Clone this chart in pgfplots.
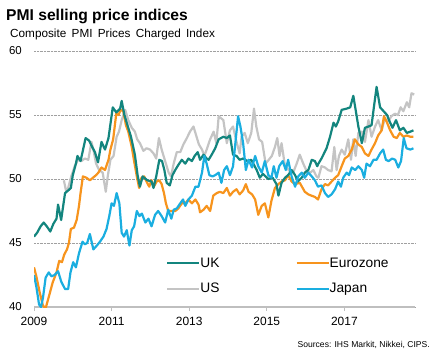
\documentclass[border=0pt]{standalone}
\usepackage{pgfplots}
\pgfplotsset{compat=1.18}
\usepackage{fontspec}
\setmainfont{Liberation Sans}
\setsansfont{Liberation Sans}
\definecolor{ukc}{HTML}{13857E}
\definecolor{ezc}{HTML}{F7941D}
\definecolor{usc}{HTML}{C4C4C4}
\definecolor{jpc}{HTML}{1AAEE0}
\definecolor{gridc}{HTML}{A0A0A0}
\definecolor{axc}{HTML}{BFBFBF}

\pgfplotstableread{
x y
2009.00 45.5
2009.08 45.8
2009.17 46.3
2009.25 46.6
2009.33 46.3
2009.42 45.9
2009.50 46.5
2009.58 46.9
2009.62 48.0
2009.70 46.8
2009.80 48.9
2009.88 49.1
2009.95 49.3
2010.00 50.3
2010.08 51.2
2010.12 51.8
2010.20 51.4
2010.33 53.2
2010.42 53.0
2010.50 52.5
2010.57 52.1
2010.65 51.3
2010.74 52.9
2010.83 52.3
2010.92 53.2
2011.03 55.6
2011.12 55.2
2011.22 55.5
2011.26 56.1
2011.33 55.0
2011.43 54.0
2011.50 53.3
2011.60 51.9
2011.67 50.3
2011.73 49.4
2011.80 50.2
2011.92 49.9
2012.03 49.8
2012.08 49.3
2012.15 50.2
2012.23 51.5
2012.30 51.4
2012.36 50.7
2012.42 49.7
2012.50 49.5
2012.57 50.3
2012.64 50.7
2012.72 51.1
2012.81 51.5
2012.90 51.2
2012.98 51.6
2013.07 51.4
2013.14 51.8
2013.22 52.1
2013.28 51.5
2013.37 51.9
2013.45 51.6
2013.50 51.5
2013.58 51.9
2013.67 52.4
2013.76 53.1
2013.88 53.3
2013.97 53.2
2014.05 53.4
2014.13 51.9
2014.22 51.8
2014.30 51.5
2014.39 51.6
2014.50 51.4
2014.60 51.5
2014.74 50.7
2014.82 50.1
2014.90 50.4
2015.04 50.0
2015.15 50.1
2015.25 49.6
2015.30 48.7
2015.38 49.7
2015.47 50.1
2015.55 50.3
2015.64 50.7
2015.73 50.3
2015.80 49.8
2015.90 50.1
2015.98 50.5
2016.07 50.7
2016.16 51.5
2016.24 51.4
2016.30 51.0
2016.33 51.2
2016.41 51.6
2016.54 52.4
2016.63 53.3
2016.72 54.4
2016.78 54.1
2016.84 54.5
2016.93 55.4
2017.06 55.5
2017.15 55.6
2017.23 56.5
2017.29 55.4
2017.36 54.1
2017.45 52.8
2017.53 54.0
2017.62 54.1
2017.70 54.2
2017.76 55.6
2017.83 57.2
2017.92 55.6
2018.01 55.3
2018.10 55.0
2018.15 54.6
2018.24 54.0
2018.33 54.6
2018.43 53.8
2018.52 54.0
2018.61 53.6
2018.70 53.7
2018.78 53.8
}\ukdata

\pgfplotstableread{
x y
2009.00 43.1
2009.06 42.4
2009.15 41.1
2009.23 40.1
2009.30 39.9
2009.40 41.0
2009.48 41.9
2009.58 42.7
2009.65 43.6
2009.72 43.5
2009.78 44.1
2009.85 44.5
2009.90 45.0
2009.95 46.1
2010.03 46.2
2010.10 46.8
2010.16 47.9
2010.20 48.9
2010.26 50.2
2010.35 50.1
2010.44 49.9
2010.52 50.1
2010.60 50.3
2010.66 50.5
2010.74 50.9
2010.83 50.7
2010.92 51.5
2010.97 52.3
2011.04 53.1
2011.12 55.1
2011.18 55.0
2011.23 55.4
2011.30 55.3
2011.37 54.2
2011.43 53.7
2011.52 52.5
2011.58 51.4
2011.65 50.2
2011.71 49.3
2011.77 50.1
2011.84 50.2
2011.90 49.8
2011.97 49.4
2012.03 49.9
2012.09 49.4
2012.16 49.8
2012.23 49.9
2012.29 49.6
2012.35 48.9
2012.40 48.1
2012.46 47.5
2012.55 47.5
2012.64 47.5
2012.72 47.7
2012.81 48.1
2012.90 48.1
2012.98 48.4
2013.07 48.1
2013.16 48.4
2013.24 48.0
2013.28 47.4
2013.37 47.6
2013.45 47.9
2013.54 47.5
2013.62 48.7
2013.71 48.9
2013.79 49.0
2013.88 48.9
2013.97 49.3
2014.05 48.7
2014.13 49.0
2014.22 49.2
2014.30 48.8
2014.39 49.1
2014.46 49.6
2014.53 49.0
2014.62 48.8
2014.70 48.4
2014.78 47.2
2014.87 47.9
2014.95 48.1
2015.04 47.0
2015.12 48.3
2015.21 49.3
2015.30 49.6
2015.38 49.8
2015.47 49.9
2015.55 50.3
2015.64 49.8
2015.73 49.6
2015.85 49.7
2015.98 49.0
2016.07 48.8
2016.15 48.7
2016.24 48.6
2016.32 48.4
2016.41 49.2
2016.50 49.6
2016.58 49.5
2016.67 49.8
2016.76 50.1
2016.84 50.3
2016.93 51.0
2017.01 51.6
2017.10 51.8
2017.19 52.3
2017.27 53.1
2017.36 52.7
2017.45 52.5
2017.53 52.0
2017.62 51.8
2017.70 52.3
2017.79 52.8
2017.87 53.4
2017.96 53.8
2018.02 54.9
2018.10 54.4
2018.18 53.8
2018.27 53.3
2018.35 53.2
2018.43 53.6
2018.52 53.3
2018.61 53.4
2018.70 53.3
2018.78 53.3
}\ezdata

\pgfplotstableread{
x y
2009.77 49.9
2009.83 49.0
2009.88 49.3
2009.96 50.2
2010.05 51.0
2010.13 51.5
2010.22 51.4
2010.31 51.6
2010.40 51.5
2010.48 52.9
2010.53 52.3
2010.60 51.2
2010.68 50.7
2010.77 50.5
2010.85 49.0
2010.90 50.2
2010.97 51.5
2011.05 51.8
2011.13 53.3
2011.19 53.7
2011.26 54.6
2011.35 55.4
2011.43 54.6
2011.52 54.0
2011.60 53.7
2011.66 53.1
2011.73 52.8
2011.82 52.2
2011.90 52.4
2011.99 52.3
2012.08 52.0
2012.15 51.6
2012.22 53.2
2012.29 52.3
2012.38 51.4
2012.47 50.5
2012.53 50.2
2012.60 51.2
2012.68 52.1
2012.77 52.1
2012.85 52.7
2012.94 53.2
2013.02 53.7
2013.11 54.1
2013.18 53.4
2013.25 52.7
2013.33 52.3
2013.39 51.8
2013.45 52.3
2013.54 53.1
2013.63 53.7
2013.70 52.8
2013.76 54.9
2013.88 54.6
2013.97 52.8
2014.05 53.8
2014.13 54.1
2014.22 52.9
2014.30 52.0
2014.35 53.3
2014.43 53.6
2014.51 52.8
2014.60 53.6
2014.67 55.5
2014.73 54.1
2014.80 53.1
2014.88 52.9
2014.97 51.2
2015.05 51.5
2015.13 51.8
2015.21 52.5
2015.27 53.2
2015.33 51.8
2015.38 52.8
2015.47 51.0
2015.60 50.6
2015.68 50.5
2015.77 51.2
2015.85 51.9
2015.94 51.2
2016.03 50.6
2016.12 50.5
2016.20 50.7
2016.28 50.2
2016.33 50.1
2016.41 51.0
2016.50 50.9
2016.58 50.7
2016.67 50.6
2016.74 52.5
2016.80 50.7
2016.86 51.8
2016.93 52.3
2017.01 51.9
2017.10 53.1
2017.17 51.5
2017.23 53.1
2017.29 51.8
2017.36 53.6
2017.45 53.7
2017.53 52.9
2017.62 54.6
2017.70 53.3
2017.79 54.1
2017.87 54.6
2017.96 53.8
2018.04 54.7
2018.13 54.5
2018.21 54.9
2018.30 55.1
2018.38 55.0
2018.45 55.6
2018.52 55.3
2018.61 56.0
2018.67 55.6
2018.73 56.7
2018.80 56.6
}\usdata

\pgfplotstableread{
x y
2009.00 42.5
2009.06 41.6
2009.13 40.2
2009.18 40.0
2009.23 40.7
2009.30 42.3
2009.38 42.7
2009.45 42.4
2009.53 42.5
2009.62 42.8
2009.70 42.0
2009.80 41.4
2009.88 41.4
2009.94 42.7
2010.01 43.5
2010.08 43.1
2010.16 44.2
2010.25 45.1
2010.31 44.9
2010.37 45.0
2010.44 45.7
2010.53 44.5
2010.62 44.8
2010.70 45.1
2010.79 45.5
2010.87 46.1
2010.94 47.1
2011.00 48.1
2011.06 47.9
2011.13 48.9
2011.20 48.1
2011.26 45.8
2011.32 45.5
2011.39 46.0
2011.46 44.8
2011.52 46.0
2011.58 46.3
2011.65 47.5
2011.72 47.1
2011.78 47.3
2011.87 46.6
2011.95 46.9
2012.03 46.3
2012.12 47.2
2012.20 47.5
2012.29 47.1
2012.38 46.6
2012.46 47.6
2012.54 46.9
2012.60 47.6
2012.68 47.7
2012.77 48.1
2012.84 48.4
2012.90 47.9
2012.98 48.4
2013.07 48.7
2013.16 49.4
2013.24 49.4
2013.33 50.5
2013.39 51.8
2013.45 51.2
2013.52 50.3
2013.60 50.2
2013.67 50.3
2013.76 50.5
2013.83 49.7
2013.90 50.7
2013.97 51.0
2014.05 50.3
2014.13 51.0
2014.26 54.9
2014.32 54.1
2014.39 52.8
2014.46 50.7
2014.53 51.5
2014.62 50.9
2014.70 51.8
2014.78 51.0
2014.87 50.5
2014.95 51.4
2015.04 50.3
2015.12 50.1
2015.18 51.0
2015.25 50.1
2015.32 51.0
2015.41 51.4
2015.49 50.7
2015.55 51.5
2015.64 50.2
2015.73 49.4
2015.81 50.2
2015.90 50.5
2015.98 50.1
2016.07 50.5
2016.16 50.2
2016.24 49.9
2016.32 49.4
2016.41 49.5
2016.50 48.9
2016.58 48.6
2016.67 48.8
2016.76 49.2
2016.84 49.8
2016.91 49.4
2016.97 50.1
2017.06 50.5
2017.12 50.3
2017.19 50.9
2017.28 50.7
2017.36 51.0
2017.45 50.7
2017.51 50.1
2017.57 51.2
2017.66 51.0
2017.75 51.5
2017.83 51.5
2017.92 52.0
2018.00 52.3
2018.07 51.5
2018.14 51.4
2018.23 51.6
2018.31 51.5
2018.39 50.9
2018.46 51.4
2018.53 53.2
2018.60 52.4
2018.70 52.3
2018.78 52.4
}\jpdata

\begin{document}
\begin{tikzpicture}[x=1bp,y=1bp]
\path[use as bounding box] (0,0) rectangle (436,354);
\node[anchor=base west, font=\fontsize{15.7}{18}\selectfont\bfseries, inner sep=0pt] at (6,333.5) {PMI selling price indices};
\node[anchor=base west, font=\fontsize{11.8}{13}\selectfont, inner sep=0pt] at (10,316.5) {\spaceskip=0.45em plus 0.1em\relax Composite PMI Prices Charged Index};
\node[anchor=base east, font=\fontsize{8.6}{10}\selectfont, inner sep=0pt] at (430,7) {Sources: IHS Markit, Nikkei, CIPS.};
\begin{axis}[
  at={(34bp,47bp)}, anchor=south west,
  scale only axis, width=381bp, height=256bp,
  xmin=2009, xmax=2018.82, ymin=40, ymax=60,
  xtick={2009,2011,2013,2015,2017},
  ytick={40,45,50,55,60},
  /pgf/number format/1000 sep={},
  /pgf/number format/assume math mode=true,
  axis x line*=bottom, axis y line*=left,
  axis line style={-},
  y axis line style={draw=none},
  x axis line style={axc, line width=1.5bp},
  ymajorgrids, grid style={gridc, densely dotted, line width=0.6bp},
  xtick style={axc, line width=1bp}, ytick style={draw=none},
  tick align=outside, major tick length=4bp,
  yticklabel style={font=\fontsize{11.5}{13}\selectfont, anchor=east, inner sep=0pt, xshift=-8bp},
  xticklabel style={font=\fontsize{12}{14}\selectfont, anchor=north, inner sep=0pt, yshift=-6bp},
  legend columns=2,
  legend style={at={(0.3465,0.193)}, anchor=north west, draw=none, fill=none,
    font=\fontsize{13.8}{15}\selectfont, inner sep=0pt,
    row sep=14.5bp,
    /tikz/column 2/.style={column sep=76bp},
    nodes={inner sep=0pt}},
  legend image code/.code={\draw[#1] (0bp,0bp) -- (32bp,0bp);},
  legend cell align=left,
]
\addlegendimage{ukc, line width=2.2bp}\addlegendentry{UK}
\addlegendimage{ezc, line width=2.2bp}\addlegendentry{Eurozone}
\addlegendimage{usc, line width=2.2bp}\addlegendentry{US}
\addlegendimage{jpc, line width=2.2bp}\addlegendentry{Japan}
\addplot[forget plot, usc, line width=2.2bp, line join=round] table {\usdata};
\addplot[forget plot, ezc, line width=2.2bp, line join=round] table {\ezdata};
\addplot[forget plot, ukc, line width=2.2bp, line join=round] table {\ukdata};
\addplot[forget plot, jpc, line width=2.2bp, line join=round] table {\jpdata};
\end{axis}
\end{tikzpicture}
\end{document}
